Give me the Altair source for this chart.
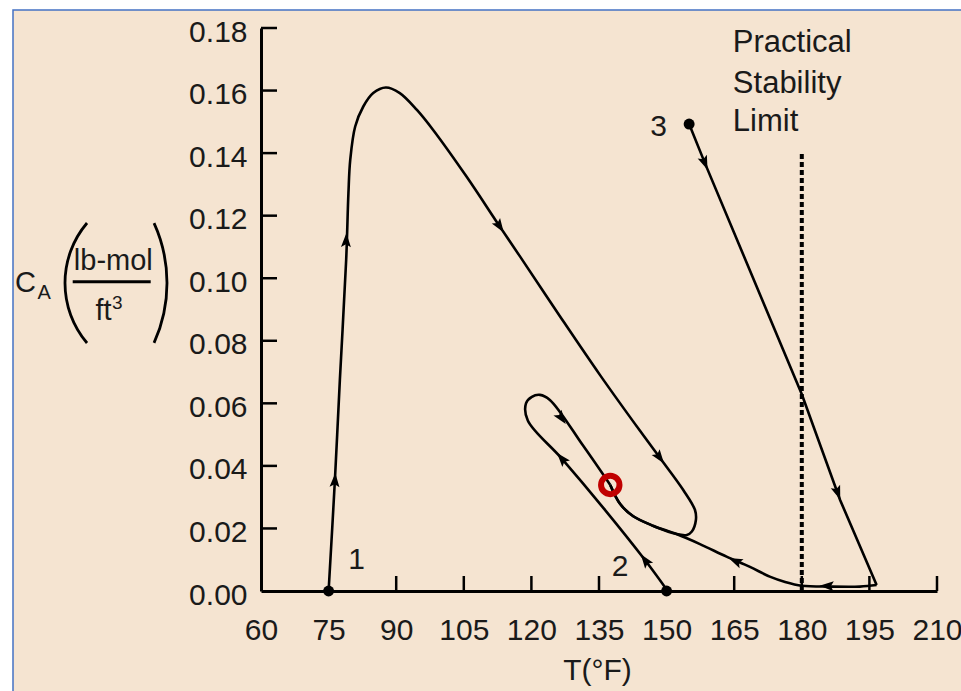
import math
import altair as alt
import pandas as pd

# ---------------- data ----------------
x_ticks = [60, 75, 90, 105, 120, 135, 150, 165, 180, 195, 210]
y_ticks = [0.00, 0.02, 0.04, 0.06, 0.08, 0.10, 0.12, 0.14, 0.16, 0.18]
inner_x_ticks = [90, 105, 120, 135, 165, 180, 195, 210]
inner_y_ticks = [0.02, 0.04, 0.06, 0.08, 0.10, 0.12, 0.14, 0.16, 0.18]

# trajectory 1 (starts at T=75, C=0)
t1_T = [75.0, 76.4, 77.5, 78.9, 79.4, 79.8, 80.9, 82.7, 84.9, 87.7, 90.8, 94.6, 98.2,
        105.6, 113.0, 117.5, 126.4, 135.2, 144.1, 148.5, 153.7, 156.3, 156.5, 155.6, 154.5,
        152.2, 147.1, 142.6, 139.7, 137.5]
t1_C = [0.0, 0.0355, 0.0675, 0.1059, 0.1272, 0.1378, 0.1485, 0.1549, 0.1592, 0.1610,
        0.1592, 0.1538, 0.1474, 0.1325, 0.1165, 0.1069, 0.0877, 0.0691, 0.0512, 0.0426,
        0.0323, 0.0259, 0.0227, 0.0190, 0.0179, 0.0182, 0.0208, 0.0239, 0.0278, 0.0339]
# trajectory 2 (starts at T=150, C=0)
t2_T = [150.0, 145.2, 136.0, 126.7, 119.2, 118.8, 120.1, 121.9, 124.1, 131.5, 137.5]
t2_C = [0.0005, 0.0099, 0.0265, 0.0424, 0.0545, 0.0600, 0.0621, 0.0627, 0.0611, 0.0464, 0.0339]
# trajectory 3, straight descent and the return along the bottom
t3a_T = [155.0, 158.5, 180.0, 188.5, 196.6]
t3a_C = [0.1493, 0.1368, 0.0629, 0.0291, 0.0019]
t3b_T = [196.6, 192.9, 186.3, 180.0, 176.3, 172.9, 168.5, 163.3, 157.4, 152.2, 147.1,
         142.6, 139.7, 137.5]
t3b_C = [0.0019, 0.0014, 0.0014, 0.0017, 0.0029, 0.0046, 0.0077, 0.0110, 0.0150, 0.0182,
         0.0208, 0.0239, 0.0278, 0.0339]

# arrowheads (position and the trajectory they belong to)
arrow_T = [76.4, 78.9, 113.0, 148.5, 158.5, 188.0, 185.5, 165.2, 145.2, 126.7, 126.7]
arrow_C = [0.0355, 0.1122, 0.1165, 0.0426, 0.1368, 0.0313, 0.0016, 0.0096, 0.0099, 0.0424, 0.0552]
arrow_series = ["1", "1", "1", "1", "3a", "3a", "3b", "3b", "2", "2", "2"]

# start points and steady state
start_T = [75.0, 150.0, 155.0]
start_C = [0.0, 0.0, 0.1493]
steady_T = [137.5]
steady_C = [0.0339]

# annotations
label_text = ["1", "2", "3"]
label_T = [81.2, 139.7, 148.2]
label_C = [0.0099, 0.0078, 0.1485]
note_text = ["Practical", "Stability", "Limit"]
note_T = [164.7, 164.7, 164.7]
note_C = [0.1752, 0.1622, 0.1500]
limit_T = [180.0]
limit_C0 = [0.0]
limit_C1 = [0.14]

# ---------------- styling ----------------
W, H = 676, 563
X_DOM = [60, 210]
Y_DOM = [0, 0.18]
FONT = "Liberation Sans, Arial, Helvetica, sans-serif"
TXT = "#1a1a1a"
BEIGE = "#F5E4D1"
BLUE = "#4472C4"

xs = alt.Scale(domain=X_DOM, nice=False, zero=False)
ys = alt.Scale(domain=Y_DOM, nice=False, zero=False)

x_axis = alt.Axis(values=x_ticks, ticks=False, tickSize=0, grid=False, zindex=1,
                  domainColor="black", domainWidth=3,
                  labelFont=FONT, labelFontSize=30, labelColor=TXT,
                  labelPadding=48, labelBaseline="alphabetic",
                  labelFlush=False, labelOverlap=False,
                  title="T(°F)", titleFont=FONT, titleFontSize=30,
                  titleFontWeight="normal", titleColor=TXT,
                  titleX=336, titleY=88, titleBaseline="alphabetic", titleAlign="center")
y_axis = alt.Axis(values=y_ticks, format=".2f", ticks=False, tickSize=0, grid=False, zindex=1,
                  domainColor="black", domainWidth=3,
                  labelFont=FONT, labelFontSize=30, labelColor=TXT,
                  labelPadding=14, labelBaseline="alphabetic", labelOffset=13,
                  labelFlush=False, labelOverlap=False, title=None)


def X(field):
    return alt.X(field, type="quantitative", scale=xs, axis=x_axis)


def Y(field):
    return alt.Y(field, type="quantitative", scale=ys, axis=y_axis)


# ---------------- tables ----------------
rows = []
for name, Ts, Cs in [("1", t1_T, t1_C), ("2", t2_T, t2_C), ("3a", t3a_T, t3a_C), ("3b", t3b_T, t3b_C)]:
    for i, (t, c) in enumerate(zip(Ts, Cs)):
        rows.append({"series": name, "seq": i, "T": t, "C": c})
lines = pd.DataFrame(rows)
series_pts = {n: list(zip(g["T"], g["C"])) for n, g in lines.groupby("series")}


def to_px(t, c):
    return ((t - X_DOM[0]) / (X_DOM[1] - X_DOM[0]) * W, H - (c - Y_DOM[0]) / (Y_DOM[1] - Y_DOM[0]) * H)


angles = []
for t, c, s in zip(arrow_T, arrow_C, arrow_series):
    p = to_px(t, c)
    pts = [to_px(a, b) for a, b in series_pts[s]]
    best, bd = None, 1e18
    for a, b in zip(pts[:-1], pts[1:]):
        dx, dy = b[0] - a[0], b[1] - a[1]
        L2 = dx * dx + dy * dy or 1e-9
        u = max(0.0, min(1.0, ((p[0] - a[0]) * dx + (p[1] - a[1]) * dy) / L2))
        qx, qy = a[0] + u * dx, a[1] + u * dy
        d = (qx - p[0]) ** 2 + (qy - p[1]) ** 2
        if d < bd:
            bd, best = d, (dx, dy)
    angles.append(math.degrees(math.atan2(best[0], -best[1])) % 360)
arrows = pd.DataFrame({"T": arrow_T, "C": arrow_C, "ang": angles})

starts = pd.DataFrame({"T": start_T, "C": start_C})
steady = pd.DataFrame({"T": steady_T, "C": steady_C})
labels = pd.DataFrame({"T": label_T, "C": label_C, "txt": label_text})
notes = pd.DataFrame({"T": note_T, "C": note_C, "txt": note_text})
limit = pd.DataFrame({"T": limit_T, "C": limit_C0, "C2": limit_C1})
xt = pd.DataFrame({"T": inner_x_ticks})
yt = pd.DataFrame({"C": inner_y_ticks})
one = pd.DataFrame({"k": [0]})

# ---------------- layers ----------------
bg = alt.Chart(one).mark_rect(fill=BEIGE, stroke=BLUE, strokeWidth=1.5).encode(
    x=alt.value(-248), x2=alt.value(710), y=alt.value(-18), y2=alt.value(672))

smooth = alt.Chart(lines).transform_filter("datum.series != '3a'").mark_line(
    color="black", strokeWidth=2.6, interpolate="catmull-rom").encode(
    x=X("T"), y=Y("C"), detail="series:N", order="seq:Q")
straight = alt.Chart(lines).transform_filter("datum.series == '3a'").mark_line(
    color="black", strokeWidth=2.6).encode(
    x=X("T"), y=Y("C"), detail="series:N", order="seq:Q")

xtick = alt.Chart(xt).mark_rule(color="black", strokeWidth=2.5).encode(
    x=X("T"), y=alt.value(H), y2=alt.value(H - 15))
ytick = alt.Chart(yt).mark_rule(color="black", strokeWidth=2.5).encode(
    y=Y("C"), x=alt.value(0), x2=alt.value(16))

limit_rule = alt.Chart(limit).mark_rule(color="black", strokeWidth=4, strokeDash=[5, 3]).encode(
    x=X("T"), y=Y("C"), y2="C2:Q")

arrow_marks = alt.Chart(arrows).mark_point(
    shape="M0,-1L0.7,1L0,0.6L-0.7,1Z", filled=True, fill="black", size=200,
    strokeWidth=0, opacity=1).encode(
    x=X("T"), y=Y("C"), angle=alt.Angle("ang:Q", scale=None))

dots = alt.Chart(starts).mark_circle(color="black", size=120, opacity=1).encode(x=X("T"), y=Y("C"))
ring = alt.Chart(steady).mark_point(shape="circle", filled=False, stroke="#C00000",
                                    strokeWidth=6, size=340, opacity=1).encode(x=X("T"), y=Y("C"))

lab = alt.Chart(labels).mark_text(font=FONT, fontSize=30, color=TXT, baseline="middle").encode(
    x=X("T"), y=Y("C"), text="txt:N")
note = alt.Chart(notes).mark_text(font=FONT, fontSize=31, color=TXT, baseline="middle", align="left").encode(
    x=X("T"), y=Y("C"), text="txt:N")


def vtext(txt, x, y, size, align="left"):
    return alt.Chart(one).mark_text(text=txt, font=FONT, fontSize=size, align=align,
                                    baseline="alphabetic", color=TXT).encode(
        x=alt.value(x), y=alt.value(y))


ytitle = [
    vtext("C", -225, 264, 29, "right"),
    vtext("A", -223.5, 271, 20, "left"),
    vtext("lb-mol", -147.7, 242, 29, "center"),
    vtext("ft", -149.5, 291.5, 29, "right"),
    vtext("3", -149, 281, 19, "left"),
    alt.Chart(one).mark_rule(color="black", strokeWidth=3).encode(
        x=alt.value(-188.3), x2=alt.value(-110.3), y=alt.value(253.7)),
    alt.Chart(one).mark_arc(color="black", radius=94.2, radius2=91.4,
                            theta=math.radians(229.7), theta2=math.radians(310.3)).encode(
        x=alt.value(-103.2), y=alt.value(255)),
    alt.Chart(one).mark_arc(color="black", radius=146.4, radius2=143.6,
                            theta=math.radians(65.6), theta2=math.radians(114.4)).encode(
        x=alt.value(-239), y=alt.value(255)),
]

chart = alt.layer(
    bg, limit_rule, smooth, straight, xtick, ytick, arrow_marks, dots, ring, lab, note, *ytitle
).properties(
    width=W, height=H,
    padding={"left": 261, "top": 28, "right": 24, "bottom": 100},
    autosize=alt.AutoSizeParams(type="none"),
    background="white",
).configure_view(strokeWidth=0)

chart.save("out.html", embed_options={"renderer": "svg", "actions": False})
